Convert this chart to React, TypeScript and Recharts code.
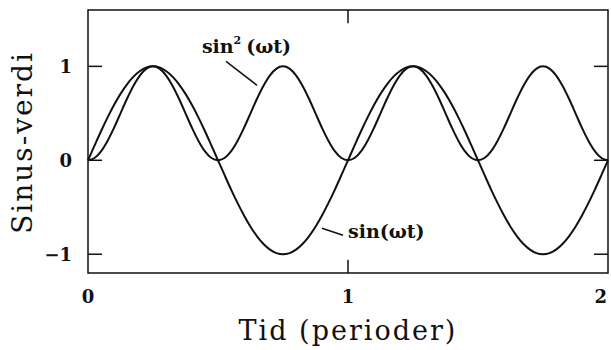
import { LineChart, Line, XAxis, YAxis, ReferenceArea, ReferenceLine, ReferenceDot } from "recharts";

// time in periods, sampled every 1/40 period
const times = [
  0, 0.025, 0.05, 0.075, 0.1, 0.125, 0.15, 0.175, 0.2, 0.225,
  0.25, 0.275, 0.3, 0.325, 0.35, 0.375, 0.4, 0.425, 0.45, 0.475,
  0.5, 0.525, 0.55, 0.575, 0.6, 0.625, 0.65, 0.675, 0.7, 0.725,
  0.75, 0.775, 0.8, 0.825, 0.85, 0.875, 0.9, 0.925, 0.95, 0.975,
  1, 1.025, 1.05, 1.075, 1.1, 1.125, 1.15, 1.175, 1.2, 1.225,
  1.25, 1.275, 1.3, 1.325, 1.35, 1.375, 1.4, 1.425, 1.45, 1.475,
  1.5, 1.525, 1.55, 1.575, 1.6, 1.625, 1.65, 1.675, 1.7, 1.725,
  1.75, 1.775, 1.8, 1.825, 1.85, 1.875, 1.9, 1.925, 1.95, 1.975,
  2,
];

const sinValues = [
  0, 0.156, 0.309, 0.454, 0.588, 0.707, 0.809, 0.891, 0.951, 0.988,
  1, 0.988, 0.951, 0.891, 0.809, 0.707, 0.588, 0.454, 0.309, 0.156,
  0, -0.156, -0.309, -0.454, -0.588, -0.707, -0.809, -0.891, -0.951, -0.988,
  -1, -0.988, -0.951, -0.891, -0.809, -0.707, -0.588, -0.454, -0.309, -0.156,
  0, 0.156, 0.309, 0.454, 0.588, 0.707, 0.809, 0.891, 0.951, 0.988,
  1, 0.988, 0.951, 0.891, 0.809, 0.707, 0.588, 0.454, 0.309, 0.156,
  0, -0.156, -0.309, -0.454, -0.588, -0.707, -0.809, -0.891, -0.951, -0.988,
  -1, -0.988, -0.951, -0.891, -0.809, -0.707, -0.588, -0.454, -0.309, -0.156,
  0,
];

const sinSqValues = [
  0, 0.024, 0.095, 0.206, 0.345, 0.5, 0.655, 0.794, 0.905, 0.976,
  1, 0.976, 0.905, 0.794, 0.655, 0.5, 0.345, 0.206, 0.095, 0.024,
  0, 0.024, 0.095, 0.206, 0.345, 0.5, 0.655, 0.794, 0.905, 0.976,
  1, 0.976, 0.905, 0.794, 0.655, 0.5, 0.345, 0.206, 0.095, 0.024,
  0, 0.024, 0.095, 0.206, 0.345, 0.5, 0.655, 0.794, 0.905, 0.976,
  1, 0.976, 0.905, 0.794, 0.655, 0.5, 0.345, 0.206, 0.095, 0.024,
  0, 0.024, 0.095, 0.206, 0.345, 0.5, 0.655, 0.794, 0.905, 0.976,
  1, 0.976, 0.905, 0.794, 0.655, 0.5, 0.345, 0.206, 0.095, 0.024,
  0,
];

const xTicks = [0, 1, 2];
const yTicks = [-1, 0, 1];

const FONT = "'DejaVu Serif', serif";
const INK = "#111";

const data = times.map((t, i) => ({ t, sin: sinValues[i], sin2: sinSqValues[i] }));

// inward tick marks, lengths in data units
const X_TICK_LEN = 0.14;
const Y_TICK_LEN = 0.054;

function XTick({ x, y, payload }: any) {
  // the last label sits flush against the right edge, as in the scan
  const last = payload.value === xTicks[xTicks.length - 1];
  return (
    <text
      x={x}
      y={y}
      dy="0.71em"
      textAnchor={last ? "end" : "middle"}
      fontFamily={FONT}
      fontWeight="bold"
      fontSize={18}
      fill={INK}
    >
      {payload.value}
    </text>
  );
}

function SinSqLabel({ viewBox }: any) {
  return (
    <text x={viewBox.x} y={viewBox.y} fontFamily={FONT} fontWeight="bold" fontSize={19} fill={INK}>
      sin
      <tspan dy={-9} fontSize={11}>2</tspan>
      <tspan dy={9} dx={5}>(ωt)</tspan>
    </text>
  );
}

function SinLabel({ viewBox }: any) {
  return (
    <text x={viewBox.x} y={viewBox.y} fontFamily={FONT} fontWeight="bold" fontSize={19} fill={INK}>
      sin(ωt)
    </text>
  );
}

export default function App() {
  return (
    <div style={{ position: "absolute", left: 0, top: 0, background: "#fff" }}>
      <LineChart width={611} height={350} data={data} margin={{ top: 10, right: 3, bottom: 0, left: 0 }}>
        <XAxis
          dataKey="t"
          type="number"
          domain={[0, 2]}
          ticks={xTicks}
          tickLine={false}
          axisLine={false}
          tickSize={0}
          tickMargin={17}
          height={77}
          tick={<XTick />}
          label={{
            value: "Tid (perioder)",
            position: "insideBottom",
            offset: 10,
            style: { fontFamily: FONT, fontSize: 27, fill: INK, letterSpacing: 2 },
          }}
        />
        <YAxis
          type="number"
          domain={[-1.2, 1.6]}
          ticks={yTicks}
          tickLine={false}
          axisLine={false}
          tickSize={0}
          tickMargin={16}
          width={88}
          tickFormatter={(v: number) => (v < 0 ? "\u2212" + Math.abs(v) : String(v))}
          tick={{ fontFamily: FONT, fontWeight: "bold", fontSize: 18, fill: INK }}
          label={{
            value: "Sinus-verdi",
            angle: -90,
            position: "insideLeft",
            offset: 22,
            dy: 1,
            style: { fontFamily: FONT, fontSize: 28, fill: INK, textAnchor: "middle", letterSpacing: 2 },
          }}
        />
        <ReferenceArea x1={0} x2={2} y1={-1.2} y2={1.6} fill="none" stroke={INK} strokeWidth={1.5} ifOverflow="visible" />
        {yTicks.map((v) => (
          <ReferenceLine key={"l" + v} segment={[{ x: 0, y: v }, { x: Y_TICK_LEN, y: v }]} stroke={INK} strokeWidth={1.5} />
        ))}
        {yTicks.map((v) => (
          <ReferenceLine key={"r" + v} segment={[{ x: 2 - Y_TICK_LEN, y: v }, { x: 2, y: v }]} stroke={INK} strokeWidth={1.5} />
        ))}
        <ReferenceLine segment={[{ x: 1, y: -1.2 }, { x: 1, y: -1.2 + X_TICK_LEN }]} stroke={INK} strokeWidth={1.5} />
        <ReferenceLine segment={[{ x: 1, y: 1.6 }, { x: 1, y: 1.6 - X_TICK_LEN }]} stroke={INK} strokeWidth={1.5} />
        <ReferenceLine segment={[{ x: 0.531, y: 1.053 }, { x: 0.65, y: 0.798 }]} stroke={INK} strokeWidth={1.5} />
        <ReferenceLine segment={[{ x: 0.9, y: -0.723 }, { x: 0.981, y: -0.798 }]} stroke={INK} strokeWidth={1.5} />
        <Line dataKey="sin" type="monotone" stroke={INK} strokeWidth={2} dot={false} isAnimationActive={false} />
        <Line dataKey="sin2" type="monotone" stroke={INK} strokeWidth={2} dot={false} isAnimationActive={false} />
        <ReferenceDot x={0.438} y={1.139} r={0} fill="none" stroke="none" label={<SinSqLabel />} />
        <ReferenceDot x={1.0} y={-0.83} r={0} fill="none" stroke="none" label={<SinLabel />} />
      </LineChart>
    </div>
  );
}
